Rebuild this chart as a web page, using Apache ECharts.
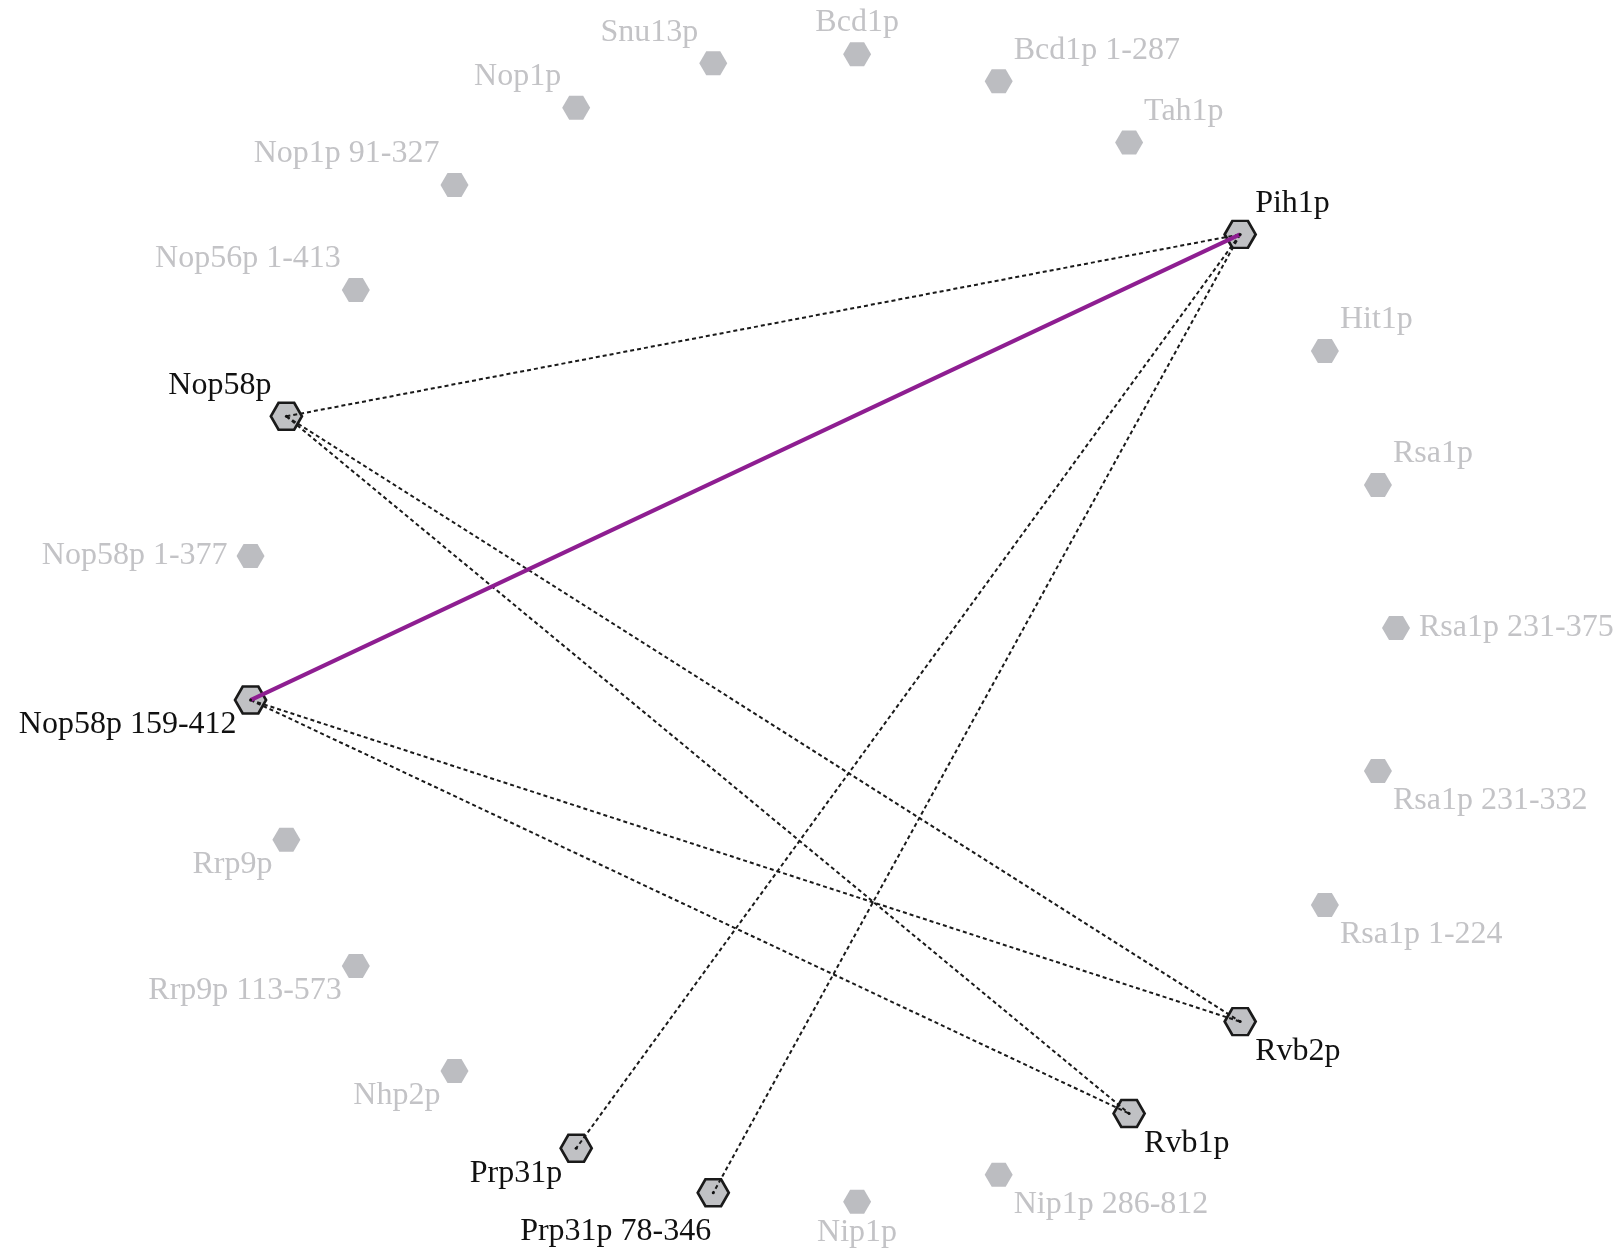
<!DOCTYPE html>
<html>
<head>
<meta charset="utf-8">
<script src="https://cdn.jsdelivr.net/npm/echarts@6/dist/echarts.min.js"></script>
<style>
html,body{margin:0;padding:0;background:#fff;}
#chart{width:1618px;height:1256px;}
</style>
</head>
<body>
<div id="chart"></div>
<script>
// Nodes in circular order (counter-clockwise starting from the right)
const nodeNames = ['Rsa1p 231-375','Rsa1p','Hit1p','Pih1p','Tah1p','Bcd1p 1-287','Bcd1p','Snu13p','Nop1p','Nop1p 91-327','Nop56p 1-413','Nop58p','Nop58p 1-377','Nop58p 159-412','Rrp9p','Rrp9p 113-573','Nhp2p','Prp31p','Prp31p 78-346','Nip1p','Nip1p 286-812','Rvb1p','Rvb2p','Rsa1p 1-224','Rsa1p 231-332'];
// Nodes that take part in interactions
const activeNodes = ['Pih1p','Nop58p','Nop58p 159-412','Prp31p','Prp31p 78-346','Rvb1p','Rvb2p'];
// Solid (purple) interactions
const solidLinks = [['Nop58p 159-412','Pih1p']];
// Dotted interactions
const dottedLinks = [
  ['Nop58p','Pih1p'],
  ['Nop58p','Rvb2p'],
  ['Nop58p','Rvb1p'],
  ['Nop58p 159-412','Rvb2p'],
  ['Nop58p 159-412','Rvb1p'],
  ['Pih1p','Prp31p'],
  ['Pih1p','Prp31p 78-346']
];

// label placement (style only)
const labelPlacement = {
  'Rsa1p 231-375':'r','Rsa1p':'ur','Hit1p':'ur','Pih1p':'ur','Tah1p':'ur','Bcd1p 1-287':'ur','Bcd1p':'t',
  'Snu13p':'ul','Nop1p':'ul','Nop1p 91-327':'ul','Nop56p 1-413':'ul','Nop58p':'ul','Nop58p 1-377':'l',
  'Nop58p 159-412':'ll','Rrp9p':'ll','Rrp9p 113-573':'ll','Nhp2p':'ll','Prp31p':'ll','Prp31p 78-346':'bl',
  'Nip1p':'b','Nip1p 286-812':'lr','Rvb1p':'lr','Rvb2p':'lr','Rsa1p 1-224':'lr','Rsa1p 231-332':'lr'
};
const placeStyle = {
  r:  {align:'left',   offset:[23, 0]},
  ur: {align:'left',   offset:[15, -31]},
  lr: {align:'left',   offset:[15, 30]},
  t:  {align:'center', offset:[0, -32]},
  b:  {align:'center', offset:[0, 31]},
  ul: {align:'right',  offset:[-15, -31]},
  l:  {align:'right',  offset:[-23, 0]},
  ll: {align:'right',  offset:[-14, 25]},
  bl: {align:'right',  offset:[-2, 39]}
};

const hex = 'path://M0,0.866 L0.5,0 L1.5,0 L2,0.866 L1.5,1.732 L0.5,1.732 Z';
const FONT = '"Liberation Serif", "Times New Roman", serif';

const nodeData = nodeNames.map((n, i) => {
  const act = activeNodes.indexOf(n) >= 0;
  const p = placeStyle[labelPlacement[n]];
  return {
    name: n,
    value: [1, i],
    symbol: hex,
    symbolSize: act ? [31, 27] : [28, 24],
    itemStyle: act ? {color:'#c0c1c4', borderColor:'#1a1a1a', borderWidth:2.6}
                   : {color:'#bcbdc1', borderWidth:0},
    label: {
      show: true, position: 'inside', align: p.align, verticalAlign: 'middle',
      offset: p.offset, color: act ? '#111111' : '#c3c3c6',
      fontFamily: FONT, fontSize: 32
    }
  };
});

const dotData = nodeNames.map((n, i) => {
  const act = activeNodes.indexOf(n) >= 0;
  return {
    name: n, value: [1, i],
    symbol: 'circle', symbolSize: act ? 3 : 0,
    itemStyle: {color:'#111'}
  };
});

const links = dottedLinks.map(l => ({
  source: l[0], target: l[1],
  lineStyle: {color:'#1a1a1a', width:2, type:[4,3], opacity:1, curveness:0}
})).concat(solidLinks.map(l => ({
  source: l[0], target: l[1],
  lineStyle: {color:'#8e1e91', width:4, type:'solid', opacity:1, curveness:0}
})));

const chart = echarts.init(document.getElementById('chart'), null, {renderer:'canvas'});
chart.setOption({
  backgroundColor: '#ffffff',
  animation: false,
  polar: {center: [821, 628], radius: 575},
  angleAxis: {type:'category', data: nodeNames, boundaryGap:false, startAngle:0, clockwise:false, show:false},
  radiusAxis: {type:'value', min:0, max:1, show:false},
  series: [
    {
      type: 'graph', coordinateSystem: 'polar', z: 2,
      data: nodeData, links: [],
      emphasis: {disabled: true}
    },
    {
      type: 'graph', coordinateSystem: 'polar', z: 3,
      data: dotData, links: links,
      label: {show:false},
      emphasis: {disabled: true}
    }
  ]
});
</script>
</body>
</html>
